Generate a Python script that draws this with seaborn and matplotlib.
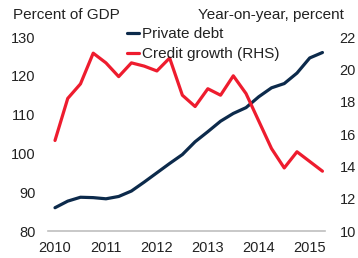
import numpy as np
import pandas as pd
import matplotlib
matplotlib.use("Agg")
import matplotlib.pyplot as plt
import seaborn as sns

# Quarterly data, 2010Q1 - 2015Q2
quarters = list(range(22))
private_debt = [86.0, 87.7, 88.7, 88.6, 88.3, 88.9, 90.3, 92.6, 95.0, 97.4, 99.7,
                103.0, 105.6, 108.3, 110.3, 111.8, 114.6, 116.9, 118.0, 120.7, 124.6, 126.0]
credit_growth = [15.6, 18.2, 19.1, 21.0, 20.4, 19.55, 20.4, 20.2, 19.9, 20.7, 18.4,
                 17.7, 18.8, 18.4, 19.6, 18.5, 16.8, 15.1, 13.9, 14.9, 14.3, 13.7]
year_ticks = [0, 4, 8, 12, 16, 20]
year_labels = ["2010", "2011", "2012", "2013", "2014", "2015"]
left_ticks = [80, 90, 100, 110, 120, 130]
right_ticks = [10, 12, 14, 16, 18, 20, 22]

sns.set_style("white")
plt.rcParams["font.family"] = ["Liberation Sans", "DejaVu Sans"]
plt.rcParams["font.size"] = 10.5

df = pd.DataFrame({"q": quarters, "debt": private_debt, "credit": credit_growth})

NAVY = "#0c2a4b"
RED = "#ee1c2e"
TXT = "#222222"

fig = plt.figure(figsize=(3.58, 2.58), dpi=100)
W, H = 358, 258
ax = fig.add_axes([48 / W, (H - 231) / H, (325 - 48) / W, (231 - 37) / H])
ax2 = ax.twinx()

sns.lineplot(data=df, x="q", y="debt", ax=ax, color=NAVY, lw=2.3, label="Private debt", legend=False)
sns.lineplot(data=df, x="q", y="credit", ax=ax2, color=RED, lw=2.3, label="Credit growth (RHS)", legend=False)

ax.set_xlim(-0.55, 21.2)
ax.set_ylim(80, 130)
ax2.set_ylim(10, 22)
ax.set_xticks(year_ticks)
ax.set_xticklabels(year_labels)
ax.set_yticks(left_ticks)
ax2.set_yticks(right_ticks)
for a in (ax, ax2):
    a.set_xlabel("")
    a.set_ylabel("")
    for s in a.spines.values():
        s.set_visible(False)
    a.tick_params(length=0, labelsize=10.5, colors=TXT)
    a.grid(False)
ax.spines["bottom"].set_visible(True)
ax.spines["bottom"].set_color("#bfbfbf")
ax.spines["bottom"].set_linewidth(1.2)
ax.tick_params(axis="x", pad=7)
ax.tick_params(axis="y", pad=9)
ax2.tick_params(axis="y", pad=10.5)

fig.text(13 / W, 1 - 15 / H, "Percent of GDP", ha="left", va="center", fontsize=11, color=TXT)
fig.text(344 / W, 1 - 15 / H, "Year-on-year, percent", ha="right", va="center", fontsize=11, color=TXT)

h1, l1 = ax.get_legend_handles_labels()
h2, l2 = ax2.get_legend_handles_labels()
leg = ax2.legend(h1 + h2, l1 + l2, loc="upper left", bbox_to_anchor=(127 / W, 1 - 27 / H),
                 bbox_transform=fig.transFigure, frameon=False, fontsize=11,
                 handlelength=0.8, handletextpad=0.15, labelspacing=0.4, borderpad=0,
                 borderaxespad=0)
for t in leg.get_texts():
    t.set_color(TXT)

fig.savefig("out.png", dpi=100)
